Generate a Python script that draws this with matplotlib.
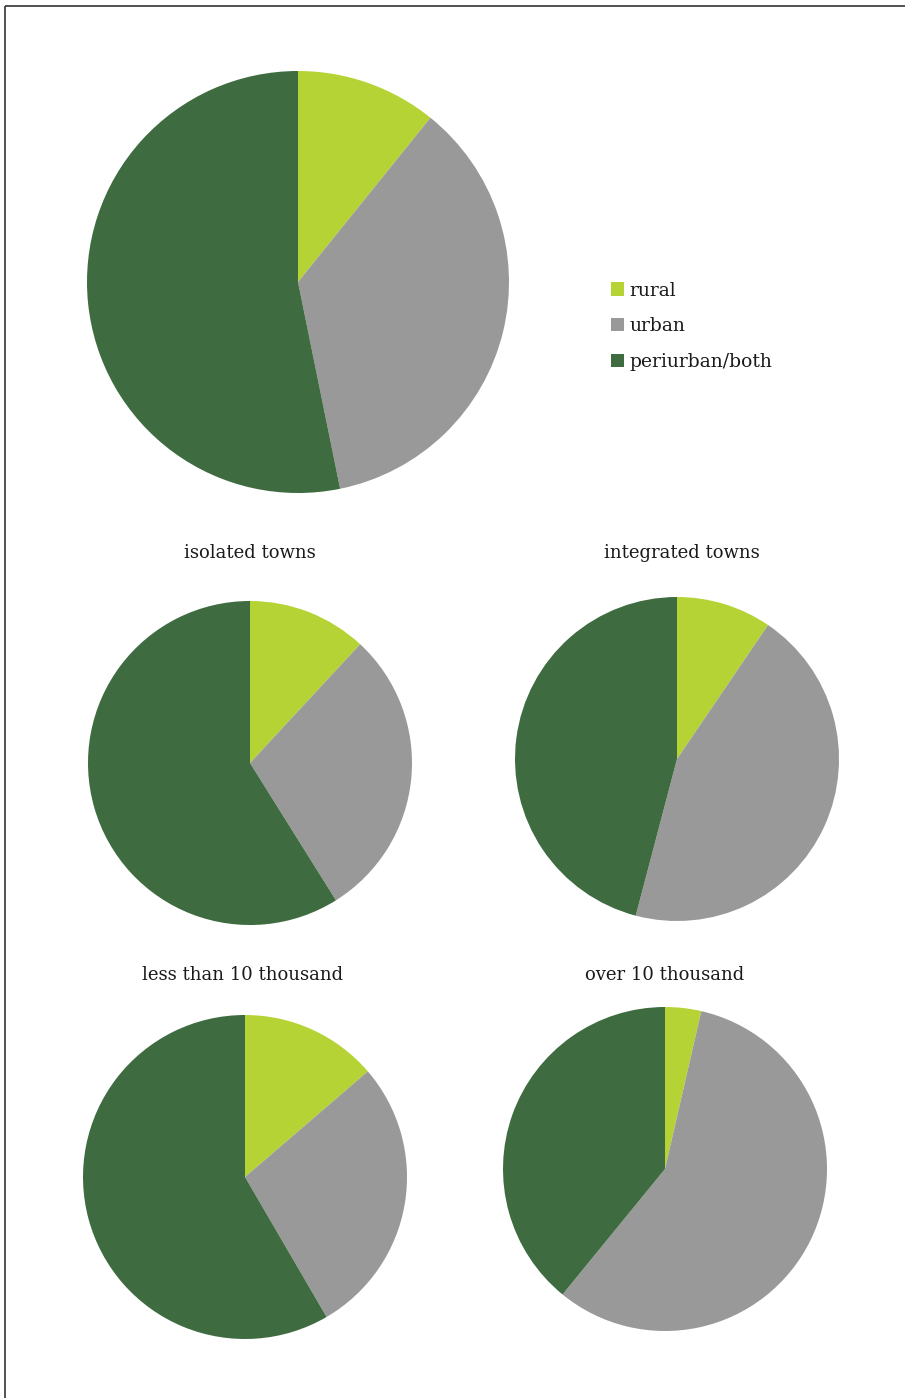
import matplotlib
matplotlib.use("Agg")
import matplotlib.pyplot as plt
from matplotlib.patches import Patch
from matplotlib.lines import Line2D

categories = ["rural", "urban", "periurban/both"]
colors = ["#b5d334", "#999999", "#3e6b3f"]

all_towns = [10.8, 36.0, 53.2]
isolated = [11.9, 29.2, 58.9]
integrated = [9.5, 44.6, 45.9]
less_10k = [13.7, 27.9, 58.4]
over_10k = [3.6, 57.3, 39.1]

titles = ["", "isolated towns", "integrated towns", "less than 10 thousand", "over 10 thousand"]
series = [all_towns, isolated, integrated, less_10k, over_10k]

W, H = 905, 1398
fig = plt.figure(figsize=(W / 100, H / 100), dpi=100)
plt.rcParams['font.family'] = ['DejaVu Serif']

# (center x, center y, radius) in pixels
geoms = [(298, 282, 211), (250, 763, 162), (677, 759, 162), (245, 1177, 162), (665, 1169, 162)]
title_pos = [None, (250, 553), (682, 553), (243, 975), (665, 975)]

for vals, (cx, cy, r), title, tp in zip(series, geoms, titles, title_pos):
    ax = fig.add_axes([(cx - r) / W, 1 - (cy + r) / H, 2 * r / W, 2 * r / H])
    ax.pie(vals, colors=colors, startangle=90, counterclock=False, radius=1,
           wedgeprops=dict(linewidth=0))
    ax.set_xlim(-1, 1)
    ax.set_ylim(-1, 1)
    ax.set_aspect('equal')
    ax.axis('off')
    if title:
        fig.text(tp[0] / W, 1 - tp[1] / H, title, ha='center', va='center',
                 fontsize=13, color='#1a1a1a')

handles = [Patch(facecolor=c, edgecolor='none') for c in colors]
fig.legend(handles, categories, loc='upper left', bbox_to_anchor=(603 / W, 1 - 274 / H),
           frameon=False, fontsize=13.5, handlelength=0.7, handleheight=0.7,
           handletextpad=0.3, labelspacing=0.95, borderaxespad=0,
           labelcolor='#1a1a1a')

# frame lines (left and top)
fig.add_artist(Line2D([5 / W, 5 / W], [0, 1 - 6 / H], color='#333333', lw=1.2,
                      solid_capstyle='butt', transform=fig.transFigure))
fig.add_artist(Line2D([5 / W, 1.0], [1 - 6 / H, 1 - 6 / H], color='#333333', lw=1.2,
                      solid_capstyle='butt', transform=fig.transFigure))

fig.savefig("out.png", dpi=100)
